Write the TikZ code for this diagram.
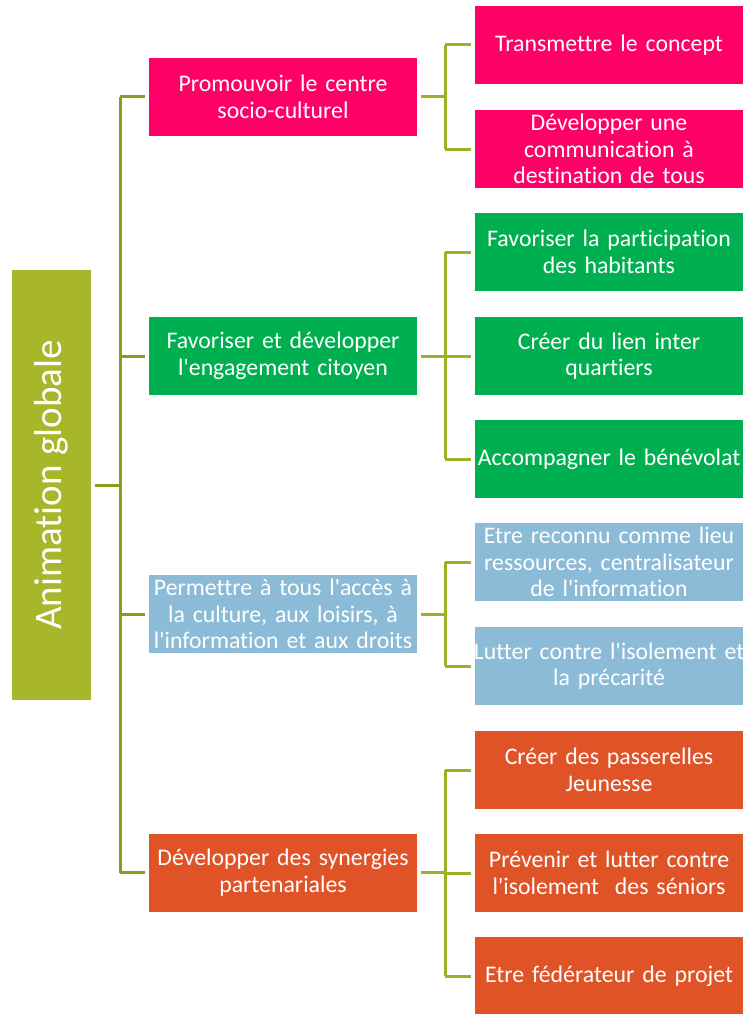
\documentclass[tikz,border=0pt]{standalone}
\usepackage{fontspec}
\setmainfont{Carlito}[WordSpace={0.8}, Ligatures={NoCommon}]
\newcommand{\q}{\textquotesingle}
\definecolor{rootc}{HTML}{A8B62A}
\definecolor{lineA}{HTML}{8A9B1F}
\definecolor{lineB}{HTML}{9CB026}
\definecolor{pinkc}{HTML}{FF0066}
\definecolor{greenc}{HTML}{00B050}
\definecolor{bluec}{HTML}{8BBBD6}
\definecolor{orangec}{HTML}{E05327}
\begin{document}
\begin{tikzpicture}[x=1pt,y=-1pt,
  box/.style={minimum width=268pt,minimum height=78pt,text width=268pt,inner sep=0pt,align=center,text=white,font=\fontsize{23.8}{26.5}\selectfont},
  pinkbox/.style={box,fill=pinkc},
  greenbox/.style={box,fill=greenc},
  bluebox/.style={box,fill=bluec},
  orangebox/.style={box,fill=orangec},
  connA/.style={draw=lineA,line width=3pt},
  connB/.style={draw=lineB,line width=3pt}]
\useasboundingbox (0,0) rectangle (746,1014);
\node[fill=rootc,minimum width=79pt,minimum height=430pt,inner sep=0pt] (root) at (51.5,485) {};
\node[rotate=90,text=white,font=\fontsize{39}{46}\selectfont] (roottxt) at (root.center) {Animation\hspace{0.25em}globale};
% level 1
\node[pinkbox] (p1) at (283,97) {Promouvoir le centre\\socio-culturel};
\node[greenbox] (p2) at (283,356) {Favoriser et développer\\l\q engagement citoyen};
\node[bluebox] (p3) at (283,614) {Permettre à tous l\q accès à\\la culture, aux loisirs, à\\l\q information et aux droits};
\node[orangebox] (p4) at (283,872.5) {Développer des synergies\\partenariales};
% level 2
\node[pinkbox] (c1) at (609,45) {Transmettre le concept};
\node[pinkbox] (c2) at (609,149) {Développer une\\communication à\\destination de tous};
\node[greenbox] (c3) at (609,252) {Favoriser la participation\\des habitants};
\node[greenbox] (c4) at (609,356) {Créer du lien inter\\quartiers};
\node[greenbox] (c5) at (609,459) {Accompagner le bénévolat};
\node[bluebox] (c6) at (609,562) {Etre reconnu comme lieu\\ressources, centralisateur\\de l\q information};
\node[bluebox] (c7) at (609,666) {\makebox[268pt]{Lutter contre l\q isolement et}\\la précarité};
\node[orangebox] (c8) at (609,770) {Créer des passerelles\\Jeunesse};
\node[orangebox] (c9) at (609,873) {Prévenir et lutter contre\\l\q isolement~~des séniors};
\node[orangebox] (c10) at (609,976) {Etre fédérateur de projet};
% buses
\coordinate (rb) at (120,0);
\coordinate (b1) at (445,0);
% root connectors
\draw[connA] ([xshift=4pt]root.east) -- (rb |- root.east);
\draw[connA] (rb |- p1.west) -- (rb |- p4.west);
\foreach \n in {p1,p2,p3,p4}
  \draw[connA] (rb |- \n.west) -- ([xshift=-4pt]\n.west);
% level 2 connectors
\draw[connB] ([xshift=4pt]p1.east) -- (b1 |- p1.east);
\draw[connB] (b1 |- c1.west) -- (b1 |- c2.west);
\foreach \n in {c1,c2} \draw[connB] (b1 |- \n.west) -- ([xshift=-4pt]\n.west);
\draw[connB] ([xshift=4pt]p2.east) -- (b1 |- p2.east);
\draw[connB] (b1 |- c3.west) -- (b1 |- c5.west);
\foreach \n in {c3,c4,c5} \draw[connB] (b1 |- \n.west) -- ([xshift=-4pt]\n.west);
\draw[connB] ([xshift=4pt]p3.east) -- (b1 |- p3.east);
\draw[connB] (b1 |- c6.west) -- (b1 |- c7.west);
\foreach \n in {c6,c7} \draw[connB] (b1 |- \n.west) -- ([xshift=-4pt]\n.west);
\draw[connB] ([xshift=4pt]p4.east) -- (b1 |- p4.east);
\draw[connB] (b1 |- c8.west) -- (b1 |- c10.west);
\foreach \n in {c8,c9,c10} \draw[connB] (b1 |- \n.west) -- ([xshift=-4pt]\n.west);
\end{tikzpicture}
\end{document}
